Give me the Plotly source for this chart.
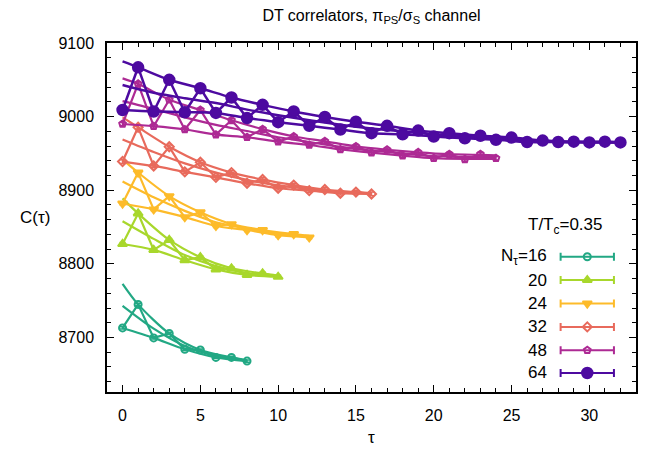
import plotly.graph_objects as go

# ---------------- data ----------------
N_tau = [16, 20, 24, 32, 48, 64]
labels = ["N<sub>τ</sub>=16", "20", "24", "32", "48", "64"]

C_16 = [8713, 8745, 8699.5, 8705.5, 8684, 8683, 8673, 8673, 8668]
C_20 = [8827, 8868.5, 8819, 8832.5, 8805, 8809, 8792.5, 8794, 8785, 8787, 8782.5]
C_24 = [8882, 8924, 8874, 8892, 8863.5, 8870, 8851.5, 8854, 8846, 8846, 8839, 8840.5, 8836]
C_32 = [8939, 8985.5, 8933, 8959, 8925, 8938, 8917.5, 8924, 8909.5, 8914.5, 8902.7,
        8907, 8899.5, 8901, 8896, 8897.5, 8895]
C_48 = [8990, 9044.5, 8987, 9023, 8982.5, 9009, 8975.5, 8995, 8972, 8983, 8966, 8973,
        8961.5, 8966.5, 8955.5, 8959.5, 8951, 8955, 8947, 8951.5, 8943.5, 8949, 8942,
        8949, 8943.5]
C_64 = [9009, 9067, 9007, 9050, 9006, 9038.5, 9005, 9026, 8998, 9016, 8992.5, 9007,
        8987.5, 8999.5, 8982.5, 8993, 8977.5, 8987.5, 8976, 8981, 8973, 8977.5, 8970.5,
        8974, 8968.5, 8971.5, 8965.5, 8967.5, 8965.5, 8966, 8965, 8966, 8965]
err_C = [1.5, 2.0, 2.0, 2.5, 2.5, 2.0]

# fit curves: upper (odd tau), middle, lower (even tau)
up_tau_16 = [0, 1, 3, 5, 7, 8]
up_16 = [8773, 8745, 8705.5, 8683, 8673, 8669]
up_tau_20 = [0, 1, 3, 5, 7, 9, 10]
up_20 = [8889, 8868.5, 8832.5, 8809, 8794, 8787, 8784]
up_tau_24 = [0, 1, 3, 5, 7, 9, 11, 12]
up_24 = [8942, 8924, 8892, 8870, 8854, 8846, 8840.5, 8838]
up_tau_32 = [0, 1, 3, 5, 7, 9, 11, 13, 15, 16]
up_32 = [8999, 8985.5, 8959, 8938, 8924, 8914.5, 8907, 8901, 8897.5, 8896]
up_tau_48 = [0, 1, 3, 5, 7, 9, 11, 13, 15, 17, 19, 21, 23, 24]
up_48 = [9052, 9044.5, 9023, 9009, 8995, 8983, 8973, 8966.5, 8959.5, 8955, 8951.5,
         8949, 8948, 8947.5]
up_tau_64 = [0, 1, 3, 5, 7, 9, 11, 13, 15, 17, 19, 21, 23, 25, 27, 29, 31, 32]
up_64 = [9075, 9067, 9050, 9038.5, 9026, 9016, 9007, 8999.5, 8993, 8987.5, 8981,
         8977.5, 8974, 8971.5, 8967.5, 8966, 8966, 8965.5]

mid_16 = [8743, 8712, 8688.5, 8675, 8668.5]
mid_20 = [8858, 8834, 8812, 8797, 8787.5, 8783]
mid_24 = [8912, 8890.5, 8872, 8856.5, 8848, 8841, 8837]
mid_32 = [8969, 8952, 8936.5, 8924, 8914, 8906.6, 8901.7, 8897.5, 8895.5]
mid_48 = [9021, 9010.5, 8999, 8988.8, 8980.5, 8972, 8965.5, 8959, 8954, 8950, 8946.5,
          8945, 8945]
mid_64 = [9043, 9032.5, 9025, 9018.5, 9009.5, 9002, 8995, 8989, 8984, 8980, 8976,
          8973, 8970.5, 8967.5, 8966, 8965.5, 8965]

lo_16 = [8713, 8699.5, 8684, 8673, 8668]
lo_20 = [8827, 8819, 8805, 8792.5, 8785, 8782.5]
lo_24 = [8882, 8874, 8863.5, 8851.5, 8846, 8839, 8836]
lo_32 = [8939, 8933, 8925, 8917.5, 8909.5, 8902.7, 8899.5, 8896, 8895]
lo_48 = [8990, 8987, 8982.5, 8975.5, 8972, 8966, 8961.5, 8955.5, 8951, 8947, 8943.5,
         8942.5, 8942.5]
lo_64 = [9009, 9007, 9006, 9005, 8998, 8992.5, 8987.5, 8982.5, 8977.5, 8976, 8973,
         8970.5, 8968.5, 8965.5, 8965.5, 8965, 8965]

x_ticks = [0, 5, 10, 15, 20, 25, 30]
y_ticks = [8700, 8800, 8900, 9000, 9100]

# ---------------- styles ----------------
colors = ["#22a884", "#a8d72c", "#fdbb2a", "#e86a5c", "#ad2a94", "#4d0aa0"]
symbols = ["circle-open", "triangle-up", "triangle-down", "diamond-open",
           "pentagon-open", "circle"]
msizes = [7, 8, 8, 7, 7, 10.5]

data_C = [C_16, C_20, C_24, C_32, C_48, C_64]
ups = [(up_tau_16, up_16), (up_tau_20, up_20), (up_tau_24, up_24),
       (up_tau_32, up_32), (up_tau_48, up_48), (up_tau_64, up_64)]
mids = [mid_16, mid_20, mid_24, mid_32, mid_48, mid_64]
los = [lo_16, lo_20, lo_24, lo_32, lo_48, lo_64]

FONT = "Liberation Sans, Arial, Helvetica, sans-serif"
fig = go.Figure()

for i, n in enumerate(N_tau):
    col = colors[i]
    lw = 2.5 if n == 64 else 2.2
    even_tau = list(range(0, n // 2 + 1, 2))
    # fit curves
    fig.add_trace(go.Scatter(x=ups[i][0], y=ups[i][1], mode="lines",
                             line=dict(color=col, width=lw, shape="spline", smoothing=0.8),
                             showlegend=False, hoverinfo="skip"))
    fig.add_trace(go.Scatter(x=even_tau, y=mids[i], mode="lines",
                             line=dict(color=col, width=lw, shape="spline", smoothing=0.8),
                             showlegend=False, hoverinfo="skip"))
    fig.add_trace(go.Scatter(x=even_tau, y=los[i], mode="lines",
                             line=dict(color=col, width=lw, shape="spline", smoothing=0.8),
                             showlegend=False, hoverinfo="skip"))
    # data
    tau = list(range(0, n // 2 + 1))
    fig.add_trace(go.Scatter(
        x=tau, y=data_C[i], mode="lines+markers",
        line=dict(color=col, width=lw),
        marker=dict(symbol=symbols[i], size=msizes[i], color=col,
                    line=dict(color=col, width=2)),
        error_y=dict(type="constant", value=err_C[i], color=col, thickness=1.5, width=3),
        showlegend=False))

# ---------------- manual gnuplot-style key ----------------
key_y = [0.3875, 0.3206, 0.2536, 0.1866, 0.1196, 0.0545]
key_x_text = 0.8362
key_x_mark = 0.9079
key_half = 0.0504
annotations = []
for i, n in enumerate(N_tau):
    fig.add_trace(go.Scatter(
        x=[key_x_mark], y=[key_y[i]], xaxis="x2", yaxis="y2", mode="markers",
        marker=dict(symbol=symbols[i], size=msizes[i], color=colors[i],
                    line=dict(color=colors[i], width=2)),
        error_x=dict(type="constant", value=key_half, color=colors[i], thickness=2, width=4),
        showlegend=False, hoverinfo="skip"))
    annotations.append(dict(text=labels[i], xref="paper", yref="paper",
                            x=key_x_text, y=key_y[i], xanchor="right", yanchor="middle",
                            showarrow=False, font=dict(size=17, family=FONT, color="black")))
annotations.append(dict(text="T/T<sub>c</sub>=0.35", xref="paper", yref="paper",
                        x=0.9403, y=0.475, xanchor="right", yanchor="middle",
                        showarrow=False, font=dict(size=17, family=FONT, color="black")))
annotations.append(dict(text="C(τ)", xref="paper", yref="paper", x=0, y=0.5,
                        xanchor="right", yanchor="middle", xshift=-55, showarrow=False,
                        font=dict(size=17, family=FONT, color="black")))
annotations.append(dict(text="τ", xref="paper", yref="paper", x=0.5, y=0,
                        xanchor="center", yanchor="middle", yshift=-45, showarrow=False,
                        font=dict(size=17, family=FONT, color="black")))

axis_common = dict(showline=True, linecolor="black", linewidth=1.5, mirror="allticks",
                   ticks="inside", ticklen=7, tickwidth=1.2, tickcolor="black",
                   showgrid=False, zeroline=False,
                   tickfont=dict(size=16, family=FONT, color="black"))

fig.update_layout(
    width=652, height=449, autosize=False,
    margin=dict(l=107, r=16, t=43, b=57),
    paper_bgcolor="white", plot_bgcolor="white",
    title=dict(text="DT correlators, π<sub>PS</sub>/σ<sub>S</sub> channel",
               x=0.5, xref="paper", xanchor="center", y=1 - 15 / 449, yref="container",
               yanchor="middle", font=dict(size=16, family=FONT, color="black")),
    xaxis=dict(range=[-1, 33], tickmode="array", tickvals=x_ticks,
               minor=dict(dtick=1, tick0=0, ticks="inside", ticklen=4, tickcolor="black",
                          tickwidth=1),
               ticklabelstandoff=8, **axis_common),
    yaxis=dict(range=[8626, 9100], tickmode="array", tickvals=y_ticks,
               minor=dict(dtick=20, tick0=8700, ticks="inside", ticklen=4,
                          tickcolor="black", tickwidth=1),
               ticklabelstandoff=8, **axis_common),
    xaxis2=dict(overlaying="x", range=[0, 1], visible=False, anchor="y2"),
    yaxis2=dict(overlaying="y", range=[0, 1], visible=False, anchor="x2"),
    annotations=annotations,
    showlegend=False,
)

fig.write_html("out.html")
